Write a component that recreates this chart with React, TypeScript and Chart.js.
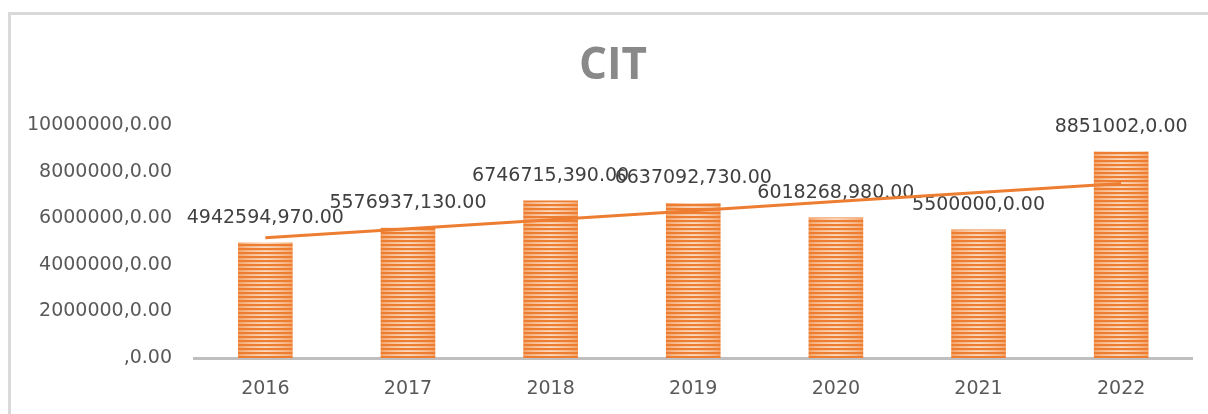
import React, { useEffect, useRef } from "react";
import { Chart, registerables } from "chart.js";

Chart.register(...registerables);

const categories = ["2016", "2017", "2018", "2019", "2020", "2021", "2022"];
const citValues = [4942594.97, 5576937.13, 6746715.39, 6637092.73, 6018268.98, 5500000, 8851002];
const valueLabels = [
  "4942594,970.00",
  "5576937,130.00",
  "6746715,390.00",
  "6637092,730.00",
  "6018268,980.00",
  "5500000,0.00",
  "8851002,0.00",
];
const yTickValues = [0, 2000000, 4000000, 6000000, 8000000, 10000000];
const yTickLabels = [",0.00", "2000000,0.00", "4000000,0.00", "6000000,0.00", "8000000,0.00", "10000000,0.00"];
const chartTitle = "CIT";

// Linear trend line (least squares over the bar values, like Excel's trendline)
function linearTrend(values: number[]): number[] {
  const n = values.length;
  const xs = values.map((_, i) => i + 1);
  const mx = xs.reduce((a, b) => a + b, 0) / n;
  const my = values.reduce((a, b) => a + b, 0) / n;
  let sxy = 0;
  let sxx = 0;
  for (let i = 0; i < n; i++) {
    sxy += (xs[i] - mx) * (values[i] - my);
    sxx += (xs[i] - mx) * (xs[i] - mx);
  }
  const slope = sxy / sxx;
  const intercept = my - slope * mx;
  return xs.map((x) => intercept + slope * x);
}

const BAR_W = 54;

function mix(a: number[], b: number[], t: number): string {
  const c = a.map((v, i) => Math.round(v + (b[i] - v) * t));
  return `rgb(${c[0]},${c[1]},${c[2]})`;
}

function makePatternCanvas(): HTMLCanvasElement {
  const c = document.createElement("canvas");
  c.width = BAR_W;
  c.height = 4;
  const g = c.getContext("2d")!;
  const lightEdge = [243, 160, 100];
  const lightCenter = [251, 218, 192];
  for (let x = 0; x < BAR_W; x++) {
    const t = 1 - Math.abs(x - (BAR_W - 1) / 2) / ((BAR_W - 1) / 2);
    const k = Math.pow(t, 0.6);
    g.fillStyle = "rgb(237,125,49)";
    g.fillRect(x, 0, 1, 2);
    g.fillStyle = mix(lightEdge, lightCenter, k * 0.75);
    g.fillRect(x, 2, 1, 1);
    g.fillStyle = mix(lightEdge, lightCenter, k);
    g.fillRect(x, 3, 1, 1);
  }
  return c;
}

export default function App() {
  const canvasRef = useRef<HTMLCanvasElement | null>(null);

  useEffect(() => {
    document.body.style.margin = "0";
    const canvas = canvasRef.current;
    if (!canvas) return;
    const patternCanvas = makePatternCanvas();

    const framePlugin = {
      id: "frame",
      beforeDraw(chart: any) {
        const ctx = chart.ctx;
        ctx.save();
        ctx.fillStyle = "#ffffff";
        ctx.fillRect(0, 0, chart.width, chart.height);
        ctx.fillStyle = "#d9d9d9";
        ctx.fillRect(8, 12, 3, chart.height - 12);
        ctx.fillRect(8, 12, chart.width - 8, 3);
        ctx.font = "bold 44px 'Open Sans'";
        ctx.fillStyle = "#898989";
        ctx.textAlign = "center";
        ctx.textBaseline = "alphabetic";
        ctx.fillText(chartTitle, 613, 79);
        ctx.restore();
      },
    };

    const labelPlugin = {
      id: "valueLabels",
      afterDatasetDraw(chart: any, args: any) {
        if (args.index !== 0) return;
        const ctx = chart.ctx;
        ctx.save();
        ctx.font = "19px 'DejaVu Sans'";
        ctx.fillStyle = "#404040";
        ctx.textAlign = "center";
        ctx.textBaseline = "middle";
        args.meta.data.forEach((bar: any, i: number) => {
          ctx.fillText(valueLabels[i], bar.x, bar.y - 25);
        });
        ctx.restore();
      },
    };

    const chart = new Chart(canvas, {
      type: "bar",
      data: {
        labels: categories,
        datasets: [
          {
            type: "bar",
            label: chartTitle,
            data: citValues,
            order: 2,
            barThickness: BAR_W,
            backgroundColor: (c: any) => {
              const ch = c.chart;
              if (!ch.chartArea || !ch.scales.x || c.dataIndex === undefined) return "#ED7D31";
              const pat = ch.ctx.createPattern(patternCanvas, "repeat");
              const left = ch.scales.x.getPixelForValue(c.dataIndex) - BAR_W / 2;
              pat.setTransform(new DOMMatrix([1, 0, 0, 1, left, 0]));
              return pat;
            },
            borderWidth: 0,
          } as any,
          {
            type: "line",
            label: "Linear (CIT)",
            data: linearTrend(citValues),
            order: 1,
            borderColor: "#ED7D31",
            borderWidth: 3,
            pointRadius: 0,
            fill: false,
            tension: 0,
          } as any,
        ],
      },
      options: {
        responsive: false,
        animation: false,
        layout: { padding: { left: 0, right: 15.5, top: 125, bottom: 0 } },
        plugins: {
          legend: { display: false },
          tooltip: { enabled: false },
          title: { display: false },
        },
        scales: {
          x: {
            grid: { display: false, drawTicks: false },
            border: { display: true, color: "#bfbfbf", width: 3 },
            afterFit: (scale: any) => {
              scale.height = 56;
            },
            ticks: {
              color: "#595959",
              font: { family: "'DejaVu Sans'", size: 19 },
              padding: 20,
            },
          },
          y: {
            min: 0,
            max: 10000000,
            grid: { display: false, drawTicks: false },
            border: { display: false },
            afterFit: (scale: any) => {
              scale.width = 194;
            },
            ticks: {
              stepSize: 2000000,
              color: "#595959",
              font: { family: "'DejaVu Sans'", size: 19 },
              padding: 22,
              callback: (v: any) => {
                const idx = yTickValues.indexOf(Number(v));
                return idx >= 0 ? yTickLabels[idx] : "";
              },
            },
          },
        },
      },
      plugins: [framePlugin, labelPlugin],
    } as any);

    return () => {
      chart.destroy();
    };
  }, []);

  return (
    <div style={{ width: 1208, height: 414, position: "relative" }}>
      <canvas ref={canvasRef} width={1208} height={414} style={{ display: "block" }} />
    </div>
  );
}
